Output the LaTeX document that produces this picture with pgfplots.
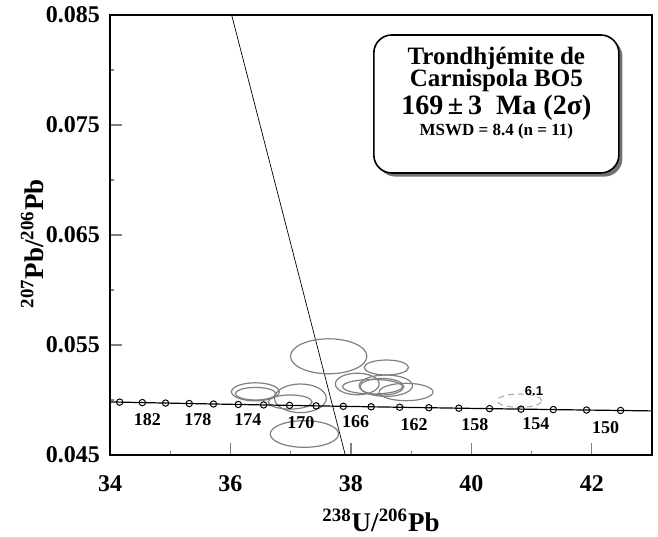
\documentclass[border=0pt]{standalone}
\usepackage{fontspec}
\setmainfont{Liberation Serif}
\newfontfamily\arialf{Liberation Sans}
\usepackage{pgfplots}
\pgfplotsset{compat=1.18}
\usepackage{pgfplotstable}
\usetikzlibrary{shadows}

% Concordia curve (age in Ma, 238U/206Pb, 207Pb/206Pb)
\pgfplotstableread{
t x y
148 43.0587 0.049004
150 42.4780 0.049046
152 41.9126 0.049087
154 41.3617 0.049129
156 40.8252 0.049171
158 40.3021 0.049213
160 39.7922 0.049255
162 39.2948 0.049298
164 38.8095 0.049340
166 38.3361 0.049382
168 37.8737 0.049424
170 37.4224 0.049467
172 36.9814 0.049509
174 36.5506 0.049551
176 36.1296 0.049594
178 35.7181 0.049637
180 35.3158 0.049679
182 34.9223 0.049722
184 34.5372 0.049765
186 34.1606 0.049807
188 33.7919 0.049850
}\concordia

% Age labels
\pgfplotstableread{
lab x y
182 34.62 0.04818
178 35.46 0.04818
174 36.29 0.04818
170 37.17 0.04791
166 38.08 0.04800
162 39.05 0.04773
158 40.06 0.04773
154 41.07 0.04788
150 42.23 0.04752
}\agelabels

% Error ellipses: centre and semi-axes
\pgfplotstableread{
cx cy rx ry
37.631 0.053973 0.634 0.00159
38.589 0.052955 0.368 0.00068
38.106 0.051455 0.364 0.00098
38.359 0.051209 0.497 0.00066
38.581 0.051300 0.442 0.00097
38.515 0.051209 0.364 0.00075
38.917 0.050727 0.447 0.00079
36.414 0.050745 0.397 0.00082
36.417 0.050573 0.336 0.00057
37.162 0.050155 0.430 0.00130
36.992 0.049818 0.364 0.00064
37.228 0.046909 0.568 0.00121
}\ellipses

% Excluded analysis 6.1
\pgfplotstableread{
cx cy rx ry
40.80 0.049936 0.369 0.00061
}\excluded

\begin{document}
\begin{tikzpicture}
\begin{axis}[
  scale only axis,
  width=271pt, height=220pt,
  xmin=34, xmax=43, ymin=0.045, ymax=0.085,
  scaled x ticks=false, scaled y ticks=false,
  xtick={34,36,38,40,42},
  xticklabels={34,36,38,40,42},
  minor xtick={35,37,39,41},
  ytick={0.045,0.055,0.065,0.075,0.085},
  yticklabels={0.045,0.055,0.065,0.075,0.085},
  minor ytick={0.05,0.06,0.07,0.08},
  xtick pos=bottom, ytick pos=left,
  major tick length=6pt, minor tick length=2.2pt,
  every major tick/.append style={line width=0.7pt},
  every minor tick/.append style={line width=0.6pt},
  tick align=inside,
  every major tick/.append style={tick align=center},
  axis line style={line width=0.7pt},
  ticklabel style={font=\bfseries\fontsize{12}{13}\selectfont},
  xticklabel style={yshift=-8pt, text height=0.68em, text depth=0pt},
  yticklabel style={xshift=-1.5pt},
  xlabel={\textsuperscript{238}U/\textsuperscript{206}Pb},
  ylabel={\textsuperscript{207}Pb/\textsuperscript{206}Pb},
  label style={font=\bfseries\fontsize{13.5}{15}\selectfont},
  xlabel style={at={(axis description cs:0.5,-0.148)}, anchor=center},
  ylabel style={at={(axis description cs:-0.143,0.48)}, anchor=center, rotate=0},
  clip=true,
]
% regression line
\addplot[black, line width=0.35pt] coordinates {(36.02,0.085) (37.907,0.045)};

% ellipses
\pgfplotstablegetrowsof{\ellipses}
\pgfmathtruncatemacro{\nlast}{\pgfplotsretval-1}
\pgfplotsforeachungrouped \i in {0,...,\nlast} {
  \pgfplotstablegetelem{\i}{cx}\of\ellipses \let\cx\pgfplotsretval
  \pgfplotstablegetelem{\i}{cy}\of\ellipses \let\cy\pgfplotsretval
  \pgfplotstablegetelem{\i}{rx}\of\ellipses \let\rx\pgfplotsretval
  \pgfplotstablegetelem{\i}{ry}\of\ellipses \let\ry\pgfplotsretval
  \edef\tmp{\noexpand\draw[black!50, line width=0.6pt] (axis cs:\cx,\cy) ellipse [x radius=\rx, y radius=\ry];}
  \tmp
}
\pgfplotstablegetelem{0}{cx}\of\excluded \let\ex\pgfplotsretval
\pgfplotstablegetelem{0}{cy}\of\excluded \let\ey\pgfplotsretval
\pgfplotstablegetelem{0}{rx}\of\excluded \let\erx\pgfplotsretval
\pgfplotstablegetelem{0}{ry}\of\excluded \let\ery\pgfplotsretval
\edef\tmp{\noexpand\draw[black!35, densely dashed, line width=0.5pt] (axis cs:\ex,\ey) ellipse [x radius=\erx, y radius=\ery];}
\tmp
\node[font=\arialf\bfseries\fontsize{6.5}{7}\selectfont] at (axis cs:41.04,0.05085) {6.1};

% concordia
\addplot[black, line width=0.6pt, no marks] table[x=x, y=y] {\concordia};
\addplot[only marks, mark=o, mark size=1.6pt, mark options={fill=white, draw=black, line width=0.5pt},
  restrict x to domain=34:43] table[x=x, y=y] {\concordia};

% age labels
\addplot[only marks, mark=none, point meta=explicit symbolic,
  nodes near coords, nodes near coords style={anchor=center, font=\bfseries\fontsize{9}{10}\selectfont}]
  table[x=x, y=y, meta=lab] {\agelabels};

% annotation box
\node[draw=black, line width=0.8pt, rounded corners=9pt, fill=white,
  minimum width=122.5pt, minimum height=69pt,
  drop shadow={shadow xshift=1.8pt, shadow yshift=-1.8pt, fill=black!55, opacity=1}]
  at (axis cs:40.415,0.07691) {};
\node[font=\bfseries\fontsize{12.5}{13}\selectfont] at (axis cs:40.415,0.08105) {Trondhjémite de};
\node[font=\bfseries\fontsize{12.5}{13}\selectfont] at (axis cs:40.415,0.07905) {Carnispola BO5};
\node[font=\bfseries\fontsize{14}{15}\selectfont] at (axis cs:40.415,0.07660) {169\,±\,3~~Ma (2σ)};
\node[font=\bfseries\fontsize{8.5}{9}\selectfont] at (axis cs:40.415,0.07440) {MSWD = 8.4 (n = 11)};
\end{axis}
\pgfresetboundingbox
\path ([shift={(-55pt,-40.5pt)}]current axis.south west) rectangle ([shift={(3pt,7.5pt)}]current axis.north east);
\end{tikzpicture}
\end{document}
